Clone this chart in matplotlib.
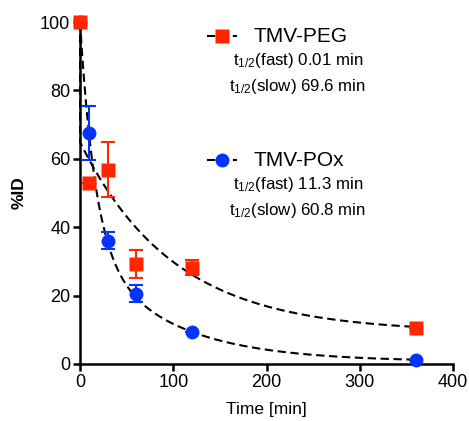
import numpy as np
import matplotlib.pyplot as plt

plt.rcParams['font.family'] = ['Liberation Sans', 'DejaVu Sans']
plt.rcParams['mathtext.default'] = 'regular'

# measured data (time in min, %ID)
time = [0, 10, 30, 60, 120, 360]
peg_mean = [100, 53, 56.8, 29.2, 28.2, 10.5]
peg_err = [0, 0, 8, 4, 2.3, 0]
pox_mean = [100, 67.5, 36, 20.5, 9.5, 1.2]
pox_err = [0, 7.8, 2.5, 2.5, 0, 0]

# two-phase decay fit parameters
peg_half_fast, peg_half_slow = 0.01, 69.6
peg_plateau, peg_span_slow = 9.3, 55.6
pox_half_fast, pox_half_slow = 11.3, 60.8
pox_plateau, pox_span_slow = 0.7, 34.0

red = '#FF2600'
blue = '#0433FF'


def two_phase(t, half_fast, half_slow, plateau, span_slow):
    span_fast = 100 - plateau - span_slow
    return (plateau + span_fast * np.exp(-np.log(2) / half_fast * t)
            + span_slow * np.exp(-np.log(2) / half_slow * t))


t_fit = np.concatenate([np.linspace(0, 0.2, 200), np.linspace(0.2, 360, 800)])

fig = plt.figure(figsize=(4.69, 4.21), dpi=100)
ax = fig.add_axes([0.1706, 0.1354, 0.7953, 0.8123])

dash = (4, 2.2)
ax.plot(t_fit, two_phase(t_fit, peg_half_fast, peg_half_slow, peg_plateau, peg_span_slow),
        color='black', lw=1.5, dashes=dash, clip_on=False, zorder=2)
ax.plot(t_fit, two_phase(t_fit, pox_half_fast, pox_half_slow, pox_plateau, pox_span_slow),
        color='black', lw=1.5, dashes=dash, clip_on=False, zorder=2)

ax.errorbar(time, pox_mean, yerr=pox_err, fmt='o', color=blue, ms=10, mec='none',
            elinewidth=1.5, capsize=5, capthick=1.5, clip_on=False, zorder=3)
ax.errorbar(time, peg_mean, yerr=peg_err, fmt='s', color=red, ms=10, mec='none',
            elinewidth=1.5, capsize=5, capthick=1.5, clip_on=False, zorder=4)

ax.set_xlim(0, 400)
ax.set_ylim(0, 100)
ax.set_xticks([0, 100, 200, 300, 400])
ax.set_yticks([0, 20, 40, 60, 80, 100])
for side in ['top', 'right']:
    ax.spines[side].set_visible(False)
for side in ['left', 'bottom']:
    ax.spines[side].set_linewidth(1.8)
ax.tick_params(width=1.8, length=5, labelsize=13, pad=2)
ax.set_xlabel('Time [min]', fontsize=12.5, labelpad=8)
ax.set_ylabel('%ID', fontsize=12.5, fontweight='bold', labelpad=10)

# hand made legend
entries = [
    ('TMV-PEG', 's', red, 36, '0.01', '69.6'),
    ('TMV-POx', 'o', blue, 160, '11.3', '60.8'),
]
W, H = 469, 421
for name, marker, color, y, fast, slow in entries:
    fy = 1 - y / H
    fig.add_artist(plt.Line2D([207 / W, 237 / W], [fy, fy], color='black', lw=1.5,
                              dashes=(4, 2.2), transform=fig.transFigure))
    fig.add_artist(plt.Line2D([222 / W], [fy], marker=marker, color=color, ms=10,
                              mec='none', transform=fig.transFigure))
    fig.text(253 / W, fy, name, fontsize=15, va='center', ha='left')
    fig.text(233 / W, 1 - (y + 24) / H, r't$_{1/2}$(fast) ' + fast + ' min',
             fontsize=12.2, va='center', ha='left')
    fig.text(229 / W, 1 - (y + 50) / H, r't$_{1/2}$(slow) ' + slow + ' min',
             fontsize=12.2, va='center', ha='left')

fig.savefig('out.png', dpi=100)
